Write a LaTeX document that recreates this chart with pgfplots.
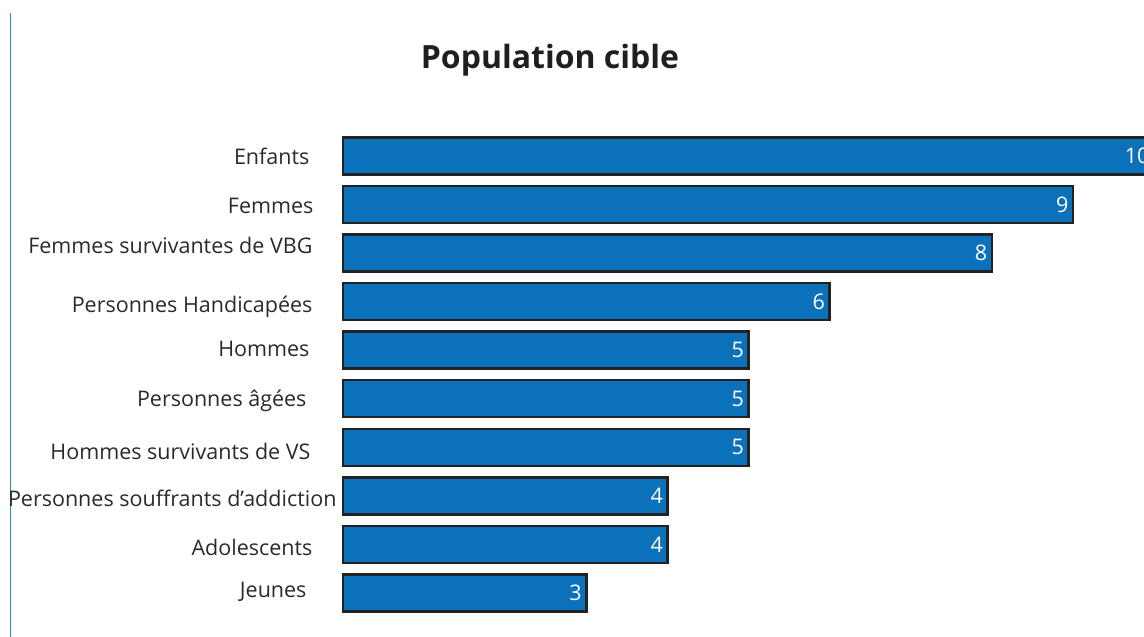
\documentclass[border=0pt]{standalone}
\usepackage{fontspec}
\setmainfont{Open Sans}
\usepackage{pgfplots}
\pgfplotsset{compat=1.18}
\definecolor{barblue}{HTML}{0B71BA}
\definecolor{edge}{HTML}{222222}
\definecolor{sideblue}{HTML}{2B8FDB}
\definecolor{labelgray}{HTML}{2A2A2A}
\begin{document}
\begin{tikzpicture}
\useasboundingbox (0,0) rectangle (1144pt,637pt);
\clip (0,0) rectangle (1144pt,637pt);
\draw[sideblue, line width=1.5pt] (10.5pt,0) -- (10.5pt,624pt);
\node[font=\fontsize{32pt}{38pt}\selectfont\bfseries, text=black!88] at (550pt,577pt) {Population cible};
\begin{axis}[
  at={(343pt,19.8pt)}, anchor=south west,
  scale only axis, width=811pt, height=485.5pt,
  xbar, bar width=37pt,
  xmin=0, xmax=10, ymin=-0.5, ymax=9.5, y dir=reverse,
  axis line style={draw=none},
  xtick=\empty, ytick={0,...,9}, major tick length=0pt,
  yticklabels={
    {Enfants\hspace*{3pt}},
    {Femmes\hspace*{-1pt}},
    {\raisebox{9pt}{Femmes survivantes de VBG}},
    {\raisebox{-1.5pt}{Personnes Handicapées}},
    {\raisebox{3pt}{Hommes}\hspace*{3pt}},
    {\raisebox{1pt}{Personnes âgées}\hspace*{6pt}},
    {\raisebox{-3pt}{Hommes survivants de VS}\hspace*{2pt}},
    {\raisebox{-2pt}{Personnes souffrants d’addiction}\hspace*{-24pt}},
    {\raisebox{-2pt}{Adolescents}},
    {\raisebox{4pt}{Jeunes}\hspace*{6pt}}},
  yticklabel style={anchor=base east, font=\fontsize{21.5pt}{26pt}\selectfont, text=labelgray, xshift=-27pt, yshift=-9pt},
  point meta=x,
  /pgf/number format/assume math mode=true,
  nodes near coords,
  nodes near coords style={anchor=east, text=white, font=\fontsize{21.5pt}{26pt}\selectfont, xshift=0pt},
  clip=false,
]
\addplot[fill=barblue, draw=edge, line width=2.5pt] table[x=v, y=i] {
i v
0 10
1 9
2 8
3 6
4 5
5 5
6 5
7 4
8 4
9 3
};
\end{axis}
\end{tikzpicture}
\end{document}
